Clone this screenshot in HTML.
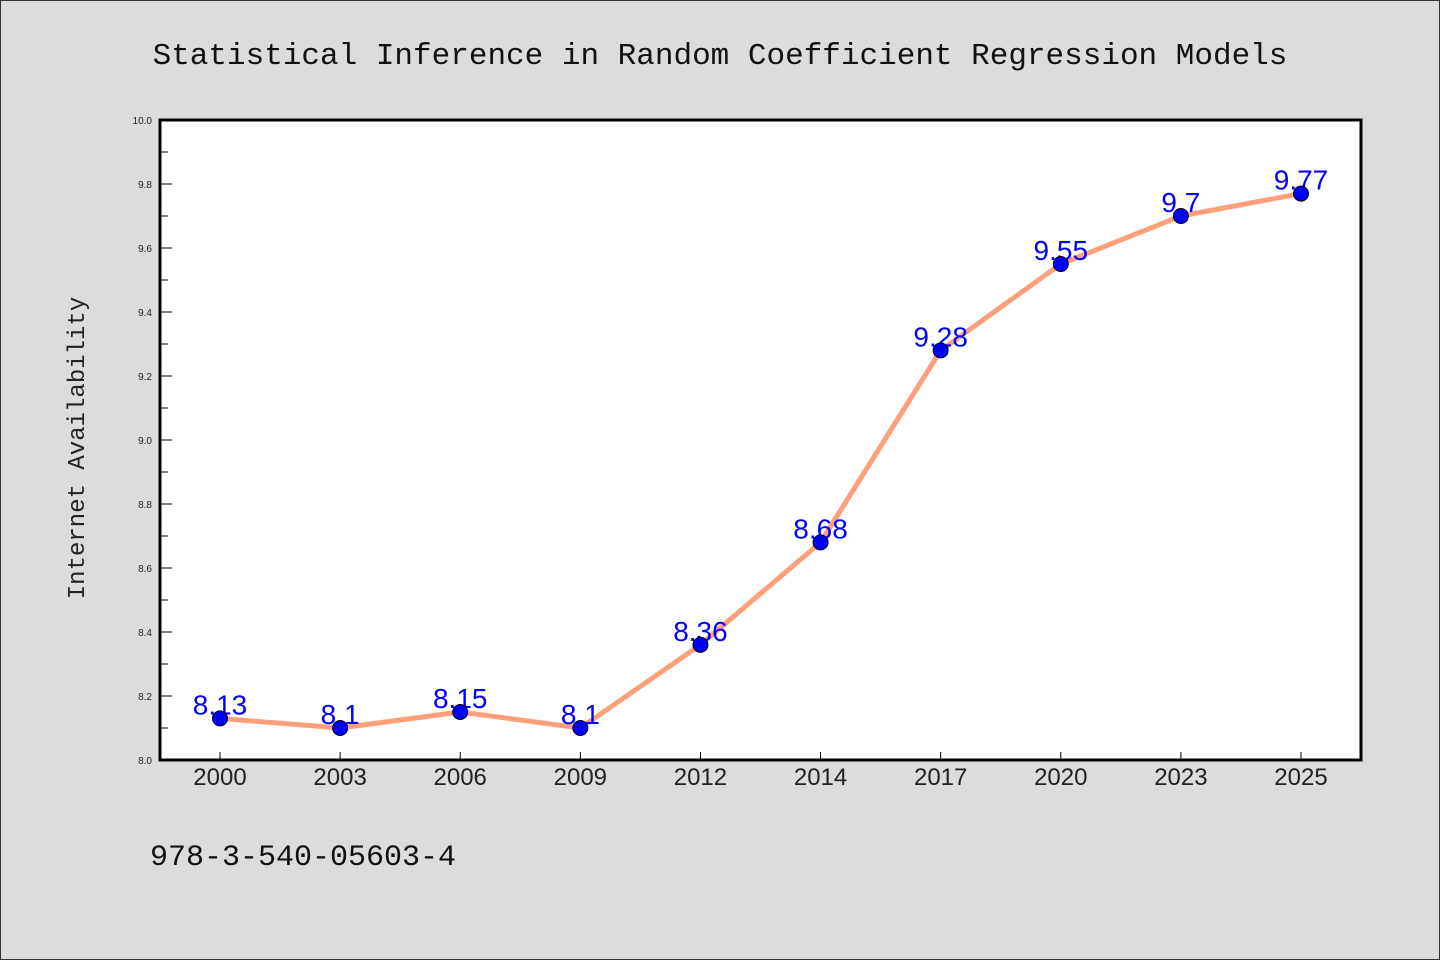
<!DOCTYPE html>
<html><head><meta charset="utf-8"><style>
html,body{margin:0;padding:0;background:#dcdcdc;}
svg{display:block;}
</style></head><body>
<svg width="1440" height="960" xmlns="http://www.w3.org/2000/svg">
<rect x="0.5" y="0.5" width="1439" height="959" fill="#dcdcdc" stroke="#333" stroke-width="1"/>
<text x="720" y="64" text-anchor="middle" font-family="Liberation Mono, monospace" font-size="31" fill="#111">Statistical Inference in Random Coefficient Regression Models</text>
<rect x="160" y="120" width="1201" height="640" fill="#fff"/>
<g id="axes"></g>
<g id="series"></g>
<rect x="160" y="120" width="1201" height="640" fill="none" stroke="#000" stroke-width="3"/>
<text transform="translate(84,448) rotate(-90)" text-anchor="middle" font-family="Liberation Mono, monospace" font-size="24" fill="#222">Internet Availability</text>
<text x="150" y="865" font-family="Liberation Mono, monospace" font-size="30" fill="#111">978-3-540-05603-4</text>
</svg>
<script>
const categories = ["2000","2003","2006","2009","2012","2014","2017","2020","2023","2025"];
const values = [8.13,8.1,8.15,8.1,8.36,8.68,9.28,9.55,9.7,9.77];
const yTicks = [8.0,8.2,8.4,8.6,8.8,9.0,9.2,9.4,9.6,9.8,10.0];
const yMin = 8.0, yMax = 10.0;
const NS = "http://www.w3.org/2000/svg";
const X0 = 160, X1 = 1361, Y0 = 760, Y1 = 120;
function xs(i){ return 220 + i * ((X1 - X0 - 120) / (categories.length - 1)); }
function ys(v){ return Y0 - (v - yMin) / (yMax - yMin) * (Y0 - Y1); }
function mk(tag, attrs, parent){ const e = document.createElementNS(NS, tag); for (const k in attrs) e.setAttribute(k, attrs[k]); parent.appendChild(e); return e; }
const axes = document.getElementById('axes');
const series = document.getElementById('series');
yTicks.forEach((t, i) => {
  const y = ys(t);
  const tk = mk('line', {x1: X0, x2: X0 + 12, y1: y, y2: y, stroke: '#000', 'stroke-width': 1}, axes);
  
  
  const lb = mk('text', {x: 152, y: y + 4, 'text-anchor': 'end', 'font-family': 'Liberation Sans, sans-serif', 'font-size': 10, fill: '#222'}, axes);
  lb.textContent = t.toFixed(1);
  
  
  if (i < yTicks.length - 1) {
    const ym = ys(t + (yTicks[1] - yTicks[0]) / 2);
    const mn = mk('line', {x1: X0, x2: X0 + 8, y1: ym, y2: ym, stroke: '#000', 'stroke-width': 1}, axes);
    
    
  }
});
categories.forEach((c, i) => {
  const x = xs(i);
  const tk = mk('line', {x1: x, x2: x, y1: Y0, y2: Y0 - 8, stroke: '#000', 'stroke-width': 1}, axes);
  
  
  const lb = mk('text', {x: x, y: 785, 'text-anchor': 'middle', 'font-family': 'Liberation Sans, sans-serif', 'font-size': 24, fill: '#222'}, axes);
  lb.textContent = c;
  
  
});
const pts = values.map((v, i) => xs(i) + ',' + ys(v)).join(' ');
const line = mk('polyline', {points: pts, fill: 'none', stroke: '#ffa07a', 'stroke-width': 5, 'stroke-linejoin': 'round'}, series);


values.forEach((v, i) => {
  const x = xs(i), y = ys(v);
  const lb = mk('text', {x: x, y: y - 4, 'text-anchor': 'middle', 'font-family': 'Liberation Sans, sans-serif', 'font-size': 28, fill: '#0000ff'}, series);
  lb.textContent = String(v);
  
  
});
values.forEach((v, i) => {
  const pt = mk('circle', {cx: xs(i), cy: ys(v), r: 7.5, fill: '#0000ff', stroke: '#000', 'stroke-width': 1}, series);
  
  
});
</script>
</body></html>
